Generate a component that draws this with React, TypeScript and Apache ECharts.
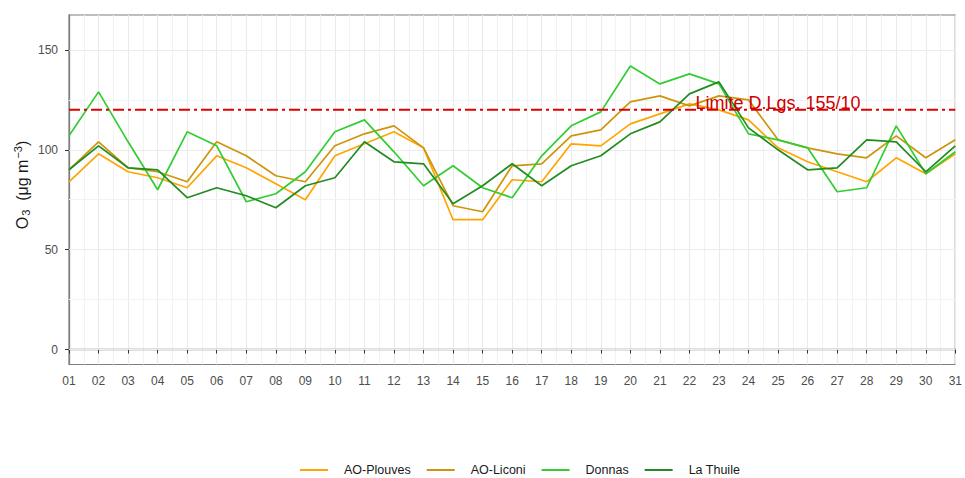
import React, { useEffect, useRef } from "react";
import * as echarts from "echarts";

const days = [
  "01", "02", "03", "04", "05", "06", "07", "08", "09", "10",
  "11", "12", "13", "14", "15", "16", "17", "18", "19", "20",
  "21", "22", "23", "24", "25", "26", "27", "28", "29", "30", "31",
];

const plouves = [84, 98, 89, 86, 81, 97, 91, 83, 75, 97, 103, 109, 101, 65, 65, 85, 84, 103, 102, 113, 118, 123, 120, 115, 101, 94, 89, 84, 96, 88, 98];
const liconi = [90, 104, 91, 89, 84, 104, 97, 87, 84, 102, 108, 112, 101, 72, 69, 92, 93, 107, 110, 124, 127, 122, 127, 125, 105, 101, 98, 96, 107, 96, 105];
const donnas = [107, 129, 104, 80, 109, 102, 74, 78, 89, 109, 115, 99, 82, 92, 81, 76, 97, 112, 119, 142, 133, 138, 133, 108, 105, 101, 79, 81, 112, 88, 99];
const laThuile = [90, 102, 91, 90, 76, 81, 77, 71, 82, 86, 104, 94, 93, 73, 82, 93, 82, 92, 97, 108, 114, 128, 134, 111, 100, 90, 91, 105, 104, 89, 102];

const seriesNames = ["AO-Plouves", "AO-Liconi", "Donnas", "La Thuile"];
const seriesColors = ["#FFA500", "#CD950C", "#32CD32", "#228B22"];
const seriesValues = [plouves, liconi, donnas, laThuile];

const limitValue = 120;
const limitLabel = "Limite D.Lgs. 155/10";
const limitLabelDay = 25;

const yMajorTicks = [0, 50, 100, 150];
const yMinorTicks = [25, 75, 125];

const FONT = "'Liberation Sans', Arial, sans-serif";

export default function App() {
  const ref = useRef<HTMLDivElement>(null);

  useEffect(() => {
    if (!ref.current) return;
    const chart = echarts.init(ref.current, undefined, { renderer: "svg" });

    const dataSeries = seriesValues.map((vals, k) => ({
      type: "line",
      name: seriesNames[k],
      data: vals.map((v, i) => [i + 1, v]),
      showSymbol: false,
      symbol: "none",
      z: 3,
      lineStyle: { color: seriesColors[k], width: 1.7 },
      itemStyle: { color: seriesColors[k] },
      emphasis: { disabled: true },
    }));

    const option: any = {
      animation: false,
      textStyle: { fontFamily: FONT },
      grid: {
        left: 69,
        right: 8,
        top: 15,
        bottom: 113.5,
        show: true,
        borderColor: "#7F7F7F",
        borderWidth: 1.2,
        backgroundColor: "transparent",
      },
      legend: {
        data: seriesNames,
        left: 300,
        top: 463.5,
        padding: 0,
        icon: "rect",
        itemWidth: 28,
        itemHeight: 2,
        itemGap: 16,
        textStyle: { fontSize: 12.5, color: "#1A1A1A", fontFamily: FONT, padding: [0, 0, 0, 11] },
      },
      xAxis: {
        type: "value",
        min: 1,
        max: 31,
        interval: 1,
        axisLine: { show: true, lineStyle: { color: "#7F7F7F", width: 1.3 } },
        axisTick: { show: true, length: 4, lineStyle: { color: "#333333", width: 1 } },
        axisLabel: {
          show: true,
          showMinLabel: true,
          showMaxLabel: true,
          margin: 10,
          fontSize: 12,
          color: "#4D4D4D",
          fontFamily: FONT,
          formatter: (v: number) => days[Math.round(v) - 1] ?? "",
        },
        splitLine: { show: true, lineStyle: { color: "#EBEBEB", width: 1.1 } },
        minorTick: { show: false, splitNumber: 2 },
        minorSplitLine: { show: true, lineStyle: { color: "#F2F2F2", width: 1 } },
      },
      yAxis: {
        type: "value",
        min: -7.5,
        max: 167.5,
        axisLine: { show: true, lineStyle: { color: "#7F7F7F", width: 1.3 } },
        axisTick: { show: true, length: 4, customValues: yMajorTicks, lineStyle: { color: "#333333", width: 1 } },
        axisLabel: {
          show: true,
          customValues: yMajorTicks,
          margin: 11,
          fontSize: 12,
          color: "#4D4D4D",
          fontFamily: FONT,
        },
        splitLine: { show: false },
      },
      graphic: [
        {
          type: "text",
          x: 22,
          y: 185,
          rotation: Math.PI / 2,
          style: {
            text: "{b|O}{s|3}{b|  (μg m}{p|−3}{b|)}",
            align: "center",
            verticalAlign: "middle",
            fill: "#1A1A1A",
            rich: {
              b: { fontSize: 16, fontFamily: FONT, fill: "#1A1A1A" },
              s: { fontSize: 11, fontFamily: FONT, fill: "#1A1A1A", padding: [8, 0, 0, 1] },
              p: { fontSize: 11, fontFamily: FONT, fill: "#1A1A1A", padding: [0, 0, 9, 1] },
            },
          },
        },
      ],
      series: [
        {
          type: "line",
          name: "_grid",
          data: [[1, 0]],
          showSymbol: false,
          symbol: "none",
          silent: true,
          z: 1,
          lineStyle: { opacity: 0 },
          markLine: {
            silent: true,
            symbol: "none",
            z: 1,
            animation: false,
            label: { show: false },
            emphasis: { disabled: true },
            data: [
              ...yMinorTicks.map((v) => ({ yAxis: v, lineStyle: { color: "#F2F2F2", width: 1, type: "solid" } })),
              ...yMajorTicks.map((v) => ({ yAxis: v, lineStyle: { color: "#EBEBEB", width: 1.1, type: "solid" } })),
            ],
          },
        },
        ...dataSeries,
        {
          type: "line",
          name: "_limit",
          data: [
            [1, limitValue],
            [31, limitValue],
          ],
          showSymbol: false,
          symbol: "none",
          silent: true,
          z: 4,
          lineStyle: { color: "#DD0000", width: 2, type: [11, 4, 3, 4] },
          markPoint: {
            silent: true,
            z: 6,
            symbol: "rect",
            symbolSize: 1,
            itemStyle: { color: "rgba(0,0,0,0)" },
            label: {
              show: true,
              position: "top",
              distance: -3,
              formatter: limitLabel,
              color: "#D00000",
              fontSize: 18,
              fontFamily: FONT,
            },
            data: [{ coord: [limitLabelDay, limitValue] }],
          },
        },
      ],
    };

    chart.setOption(option);
    return () => {
      chart.dispose();
    };
  }, []);

  return (
    <div
      ref={ref}
      style={{ position: "absolute", left: 0, top: 0, width: 965, height: 478, background: "#FFFFFF" }}
    />
  );
}
